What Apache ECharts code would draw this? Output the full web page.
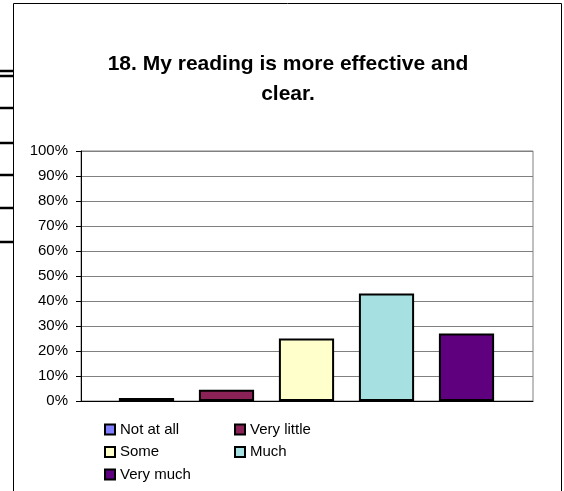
<!DOCTYPE html>
<html><head><meta charset="utf-8">
<script src="https://cdn.jsdelivr.net/npm/echarts@6/dist/echarts.min.js"></script>
<style>html,body{margin:0;padding:0;background:#fff}#c{width:564px;height:491px}</style>
</head><body><div id="c"></div>
<script>
var categories = ['Not at all', 'Very little', 'Some', 'Much', 'Very much'];
var values = [1.2, 4.5, 25, 43, 27];
var colors = ['#8080FF', '#8B2257', '#FFFFCC', '#A6E0E0', '#5F007F'];
var yTicks = [0, 10, 20, 30, 40, 50, 60, 70, 80, 90, 100];

var chart = echarts.init(document.getElementById('c'), null, {renderer: 'canvas'});
var series = categories.map(function (name, i) {
  return {
    name: name, type: 'bar', stack: 'one', xAxisIndex: 1, yAxisIndex: 1,
    barCategoryGap: '31%',
    itemStyle: {color: colors[i], borderColor: '#000', borderWidth: 2},
    data: categories.map(function (c, j) { return j === i ? values[i] : null; })
  };
});
var font = 'Liberation Sans, Arial, sans-serif';
var leftMarks = [71, 76, 108, 143, 175, 208, 242].map(function (y) {
  return {type: 'line', shape: {x1: 0, y1: y, x2: 13, y2: y}, style: {stroke: '#000', lineWidth: 2.5}, silent: true};
});
var legendText = {fontFamily: font, fontSize: 15, lineHeight: 15, color: '#000'};
chart.setOption({
  animation: false,
  backgroundColor: '#fff',
  title: {
    text: '18. My reading is more effective and\nclear.',
    left: 283, top: 44, textAlign: 'center',
    textStyle: {fontFamily: font, fontSize: 21, fontWeight: 'bold', color: '#000', lineHeight: 30}
  },
  grid: [
    {left: 81, right: 31, top: 151, bottom: 90, show: true, borderColor: '#808080', borderWidth: 1},
    {left: 106.5, right: 57.5, top: 151, bottom: 90}
  ],
  legend: [
    {orient: 'vertical', left: 99, top: 417, itemWidth: 10, itemHeight: 10, itemGap: 7.5,
     data: [categories[0], categories[2], categories[4]],
     textStyle: legendText, icon: 'rect',
     itemStyle: {borderColor: '#000', borderWidth: 2}},
    {orient: 'vertical', left: 229, top: 417, itemWidth: 10, itemHeight: 10, itemGap: 7.5,
     data: [categories[1], categories[3]],
     textStyle: legendText, icon: 'rect',
     itemStyle: {borderColor: '#000', borderWidth: 2}}
  ],
  xAxis: [
    {type: 'category', gridIndex: 0, data: categories,
     axisLine: {lineStyle: {color: '#000', width: 1}},
     axisTick: {show: false}, axisLabel: {show: false}},
    {type: 'category', gridIndex: 1, data: categories,
     axisLine: {show: false}, axisTick: {show: false}, axisLabel: {show: false}}
  ],
  yAxis: [
    {type: 'value', gridIndex: 0, min: yTicks[0], max: yTicks[yTicks.length - 1], interval: 10,
     axisLine: {show: true, lineStyle: {color: '#000', width: 1}},
     axisTick: {show: true, length: 5, lineStyle: {color: '#000'}},
     axisLabel: {formatter: '{value}%', fontFamily: font, fontSize: 15, color: '#000', margin: 13},
     splitLine: {lineStyle: {color: '#808080', width: 1}}},
    {type: 'value', gridIndex: 1, min: yTicks[0], max: yTicks[yTicks.length - 1], interval: 10,
     show: false, splitLine: {show: false}}
  ],
  series: series,
  graphic: [
    {type: 'rect', shape: {x: 13.5, y: 3.5, width: 548, height: 500}, style: {fill: 'none', stroke: '#000', lineWidth: 1}, silent: true}
  ].concat(leftMarks)
});
</script></body></html>
